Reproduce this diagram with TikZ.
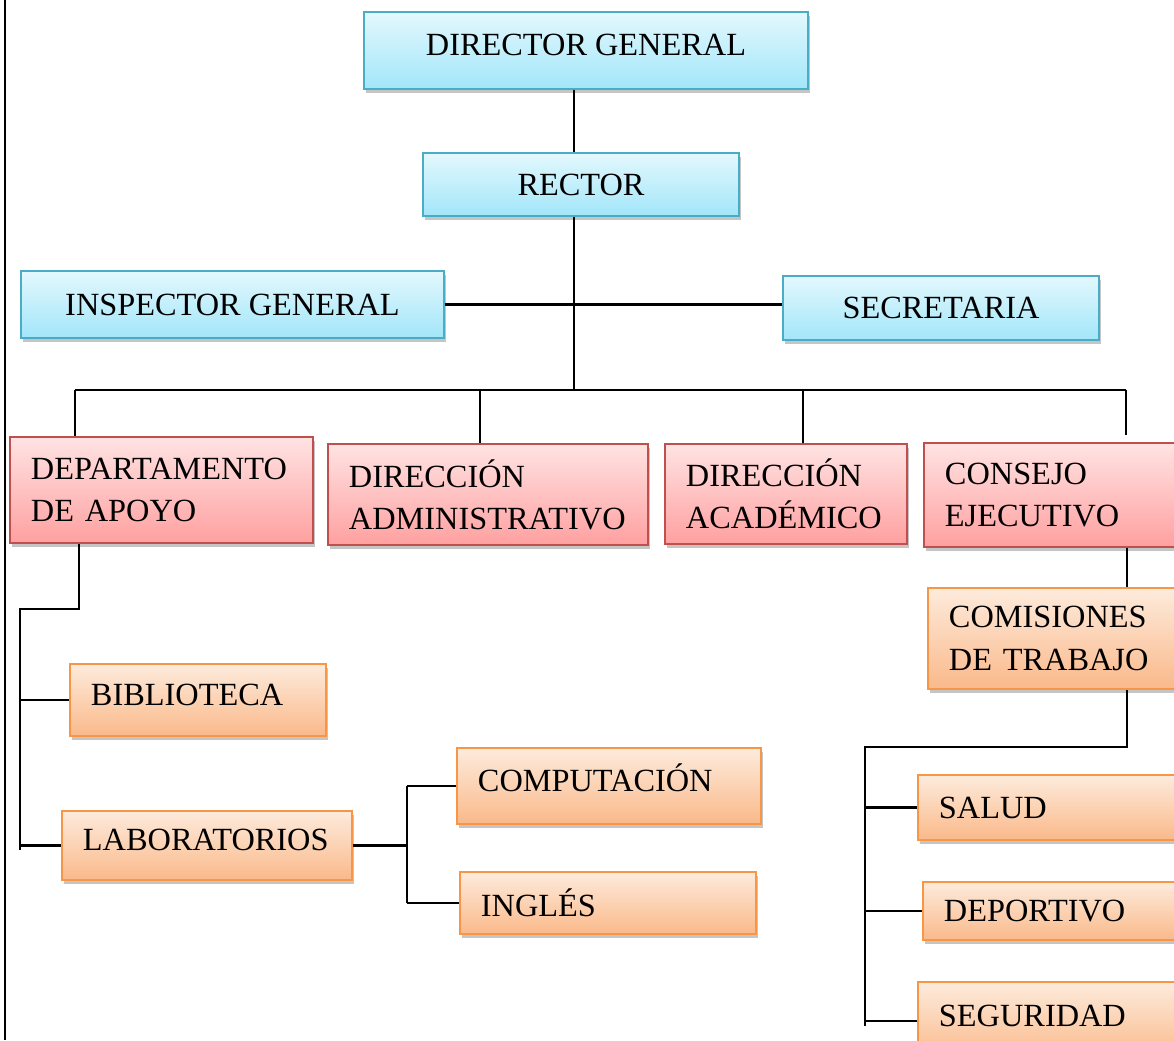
\documentclass[tikz,border=0pt]{standalone}
\usepackage{fontspec}
\setmainfont{Liberation Serif}
\usetikzlibrary{shadows}
\definecolor{bluetop}{HTML}{E3F8FD}
\definecolor{bluebot}{HTML}{A2E6FA}
\definecolor{blueline}{HTML}{4BACC6}
\definecolor{redtop}{HTML}{FFE3E3}
\definecolor{redbot}{HTML}{FFA0A0}
\definecolor{redline}{HTML}{C0504D}
\definecolor{orangetop}{HTML}{FDEBDC}
\definecolor{orangebot}{HTML}{FAB98A}
\definecolor{orangeline}{HTML}{F79646}
\tikzset{
  orgbox/.style={line width=0.9pt, inner ysep=2pt,
    font=\fontsize{23}{30}\selectfont,
    drop shadow={shadow xshift=0.06cm, shadow yshift=-0.09cm, opacity=0.45}},
  bluebox/.style={orgbox, draw=blueline, top color=bluetop, bottom color=bluebot, align=center},
  redbox/.style={orgbox, draw=redline, top color=redtop, bottom color=redbot, align=left, inner xsep=0.525cm},
  orangebox/.style={orgbox, draw=orangeline, top color=orangetop, bottom color=orangebot, align=left, inner xsep=0.525cm},
  oneline/.style={text height=0.55cm, text depth=0.3cm},
  link/.style={line width=1.5pt}
}
\begin{document}
\begin{tikzpicture}[x=0.025cm, y=-0.025cm]
    \useasboundingbox (0,0) rectangle (1174,1040);
    \fill[white] (0,0) rectangle (1174,1040);
    \clip (0,0) rectangle (1174,1040);
    \draw[line width=1.5pt] (5,0) -- (5,1040);

    % top of the chart
    \node[bluebox, minimum width=11.1cm, minimum height=1.925cm, oneline] (dg) at (586,50.5) {DIRECTOR GENERAL};
    \node[bluebox, minimum width=7.9cm, minimum height=1.575cm] (rector) at (581,184.5) {RECTOR};
    \node[bluebox, minimum width=10.575cm, minimum height=1.675cm] (insp) at (232.5,304.5) {INSPECTOR GENERAL};
    \node[bluebox, minimum width=7.9cm, minimum height=1.6cm] (secr) at (941,308) {SECRETARIA};

    % directions
    \node[redbox, minimum width=7.575cm, minimum height=2.65cm, text width=6.525cm] (depto) at (161.5,490) {DEPARTAMENTO\\DE APOYO};
    \node[redbox, minimum width=8cm, minimum height=2.525cm, text width=6.95cm] (dadm) at (488,494.5) {DIRECCIÓN\\ADMINISTRATIVO};
    \node[redbox, minimum width=6.05cm, minimum height=2.5cm, text width=5cm] (dacad) at (786,494) {DIRECCIÓN\\ACADÉMICO};
    \node[redbox, minimum width=6.65cm, minimum height=2.6cm, text width=5.6cm] (consejo) at (1057,495) {CONSEJO\\EJECUTIVO};

    % units
    \node[orangebox, minimum width=6.55cm, minimum height=2.525cm, text width=5.5cm] (comis) at (1059,638.5) {COMISIONES\\DE TRABAJO};
    \node[orangebox, minimum width=6.4cm, minimum height=1.8cm, text width=5.35cm, oneline] (biblio) at (198,700) {BIBLIOTECA};
    \node[orangebox, minimum width=7.25cm, minimum height=1.725cm, text width=6.2cm, oneline] (lab) at (207,845.5) {LABORATORIOS};
    \node[orangebox, minimum width=7.6cm, minimum height=1.9cm, text width=6.55cm, oneline] (comp) at (609,786) {COMPUTACIÓN};
    \node[orangebox, minimum width=7.4cm, minimum height=1.55cm, text width=6.35cm] (ingles) at (608,903) {INGLÉS};
    \node[orangebox, minimum width=6.8cm, minimum height=1.625cm, text width=5.75cm] (salud) at (1054,807.5) {SALUD};
    \node[orangebox, minimum width=6.675cm, minimum height=1.45cm, text width=5.625cm] (deport) at (1056.5,911) {DEPORTIVO};
    \node[orangebox, minimum width=6.8cm, minimum height=1.95cm, text width=5.75cm, oneline] (segur) at (1054,1021) {SEGURIDAD};

    % rails
    \coordinate (trunk) at (574,0);
    \coordinate (b1) at (75,390);
    \coordinate (b2) at (480,390);
    \coordinate (b3) at (803,390);
    \coordinate (b4) at (1126,390);
    \coordinate (dd) at (79,0);
    \coordinate (lrail) at (20,609);
    \coordinate (mrail) at (407,0);
    \coordinate (crail) at (1127,0);
    \coordinate (rbus) at (865,747);

    \draw[link] (dg.south -| trunk) -- (rector.north -| trunk);
    \draw[link] (rector.south -| trunk) -- (trunk |- b1);
    \draw[link] (insp.east) -- (insp.east -| secr.west);
    \draw[link] (b1) -- (b4);
    \draw[link] (b1) -- (b1 |- depto.north);
    \draw[link] (b2) -- (b2 |- dadm.north);
    \draw[link] (b3) -- (b3 |- dacad.north);
    \draw[link] (b4) -- ([yshift=0.18cm]b4 |- consejo.north);

    \draw[link] (depto.south -| dd) -- (dd |- lrail) -- (lrail) -- ([yshift=-0.12cm]lrail |- lab.west);
    \draw[link] (lrail |- biblio.west) -- (biblio.west);
    \draw[link] (lrail |- lab.west) -- (lab.west);

    \draw[link] (lab.east) -- (mrail |- lab.east);
    \draw[link] (mrail |- comp.west) -- (mrail |- ingles.west);
    \draw[link] (mrail |- comp.west) -- (comp.west);
    \draw[link] (mrail |- ingles.west) -- (ingles.west);

    \draw[link] (consejo.south -| crail) -- (comis.north -| crail);
    \draw[link] (comis.south -| crail) -- (crail |- rbus) -- (rbus) -- ([yshift=-0.12cm]rbus |- segur.west);
    \draw[link] (rbus |- salud.west) -- (salud.west);
    \draw[link] (rbus |- deport.west) -- (deport.west);
    \draw[link] (rbus |- segur.west) -- (segur.west);
\end{tikzpicture}
\end{document}
